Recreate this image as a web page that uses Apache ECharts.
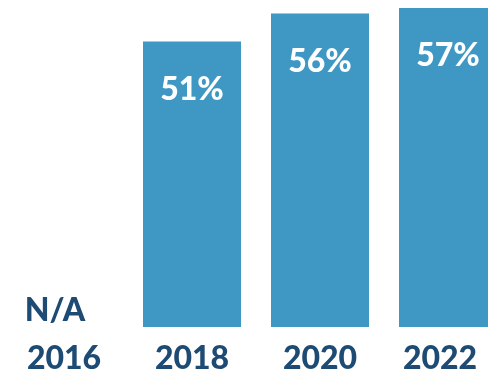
<!DOCTYPE html>
<html><head><meta charset="utf-8">
<script src="https://cdn.jsdelivr.net/npm/echarts@6/dist/echarts.min.js"></script>
<style>html,body{margin:0;padding:0;background:#fff;overflow:hidden;width:488px;height:375px}#c{width:512px;height:375px}</style>
</head><body><div id="c"></div>
<script>
const categories = ['2016', '2018', '2020', '2022'];
const values = [null, 51, 56, 57];
const valueLabels = ['N/A', '51%', '56%', '57%'];

const chart = echarts.init(document.getElementById('c'));
const navy = '#1D4B73';
const data = values.map((v, i) => {
  if (v === null) {
    return {
      value: 0,
      label: {
        show: true, formatter: valueLabels[i], color: navy,
        position: ['50%', -16], align: 'center', verticalAlign: 'middle', offset: [-9, 0]
      }
    };
  }
  return { value: v, label: { show: true, formatter: valueLabels[i] } };
});
const catData = categories.map((c, i) =>
  i === categories.length - 1 ? { value: c, textStyle: { padding: [0, 16, 0, 0] } } : c);
chart.setOption({
  animation: false,
  grid: { left: 0, top: 8, bottom: 47, right: 0, containLabel: false },
  xAxis: {
    type: 'category', data: catData,
    axisLine: { show: false }, axisTick: { show: false },
    axisLabel: { color: navy, fontFamily: 'Lato', fontWeight: 900, fontSize: 32, margin: 16 }
  },
  yAxis: { type: 'value', min: 0, max: 57, show: false, splitLine: { show: false } },
  series: [{
    type: 'bar', data: data, barWidth: 98,
    itemStyle: { color: '#3F97C4' },
    label: {
      show: true, position: ['50%', 48], align: 'center', verticalAlign: 'middle',
      color: '#fff', fontFamily: 'Lato', fontWeight: 900, fontSize: 32
    }
  }]
});
</script></body></html>
